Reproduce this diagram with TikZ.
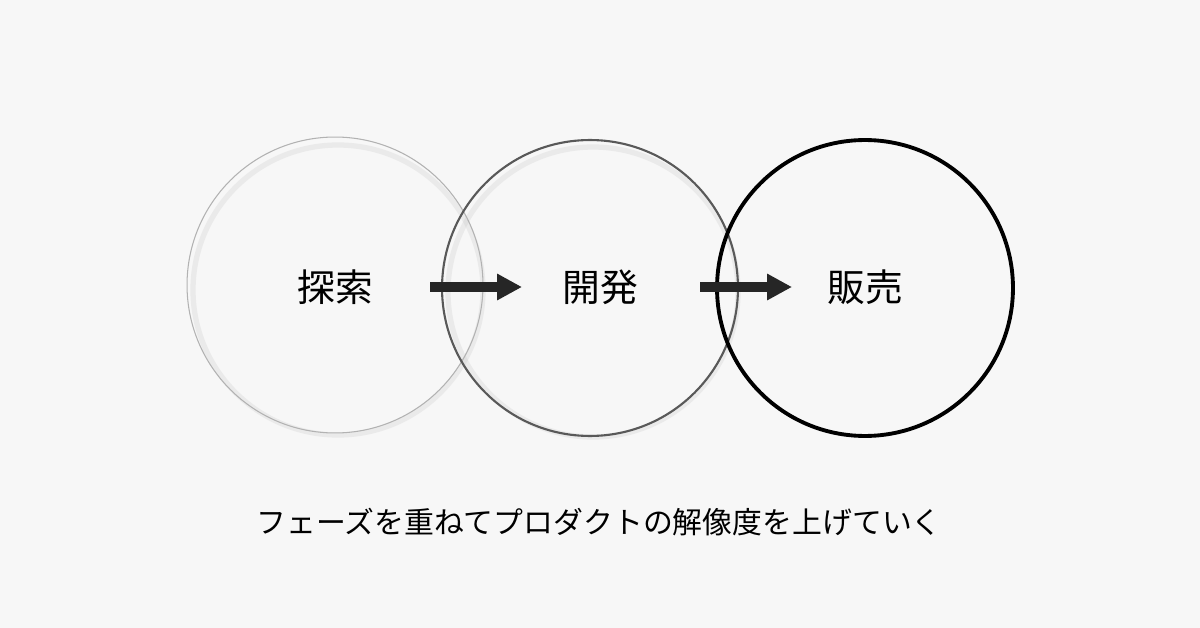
\documentclass[tikz,border=0pt]{standalone}
\usepackage{fontspec}
\setmainfont{Noto Sans CJK JP}
\usetikzlibrary{arrows.meta}
\tikzset{%
  phase/.style   = {circle, minimum size = 5.92cm, inner sep = 0pt},
  shade/.style   = {draw = black!20, line width = 3pt, opacity = 0.3},
  label/.style   = {font = \fontsize{21.5}{24}\selectfont},
  flow/.style    = {line width = 0.2cm, draw = black!85, -{Triangle[length = 0.5cm, width = 0.5cm]}}
}
\begin{document}
\begin{tikzpicture}[x=0.02cm, y=-0.02cm]
    \fill[black!3](0,0) rectangle (1200,628);

    %Schatten
    \draw[shade](338,290) circle (145);
    \draw[shade](593,292) circle (145);

    %Phasen
    \node[phase, draw = black!30, line width = 0.6pt] (tansaku) at (335,285) {};
    \node[phase, draw = black!65, line width = 1.2pt] (kaihatsu) at (590,288) {};
    \node[phase, draw = black, line width = 2.2pt] (hanbai) at (865,288) {};

    \node[label] (tansakuText) at (335,287) {探索};
    \node[label] (kaihatsuText) at (600,287) {開発};
    \node[label] (hanbaiText) at (865,287) {販売};

    %Pfeile
    \coordinate (a1) at (430,287);
    \coordinate (a2) at (522,287);
    \coordinate (b1) at (700,287);
    \coordinate (b2) at (792,287);
    \draw[flow](a1) -- (a2);
    \draw[flow](b1) -- (b2);

    \node[font = \fontsize{17}{20}\selectfont] (caption) at (599,522) {フェーズを重ねてプロダクトの解像度を上げていく};
\end{tikzpicture}
\end{document}
